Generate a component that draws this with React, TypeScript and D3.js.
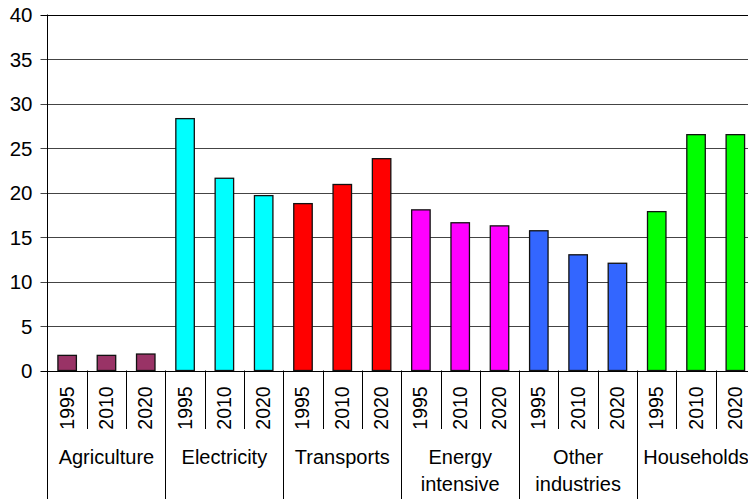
import * as d3 from "d3";

const sectors: string[][] = [
  ["Agriculture"],
  ["Electricity"],
  ["Transports"],
  ["Energy", "intensive"],
  ["Other", "industries"],
  ["Households"],
];
const years: string[] = ["1995", "2010", "2020"];
const colors: string[] = ["#993366", "#00FFFF", "#FF0000", "#FF00FF", "#3366FF", "#00FF00"];
const values: number[][] = [
  [1.7, 1.7, 1.85],
  [28.3, 21.6, 19.65],
  [18.75, 20.9, 23.8],
  [18.05, 16.6, 16.25],
  [15.7, 13.0, 12.05],
  [17.85, 26.5, 26.5],
];
const yTicks: number[] = [0, 5, 10, 15, 20, 25, 30, 35, 40];

const width = 748;
const height = 499;
const marginLeft = 47.5;
const plotRight = 755;
const marginTop = 14.5;
const axisY = 370.5;

export default function App() {
  const slots = sectors.flatMap((_, gi) => years.map((_, yi) => `${gi}-${yi}`));
  const x = d3.scaleBand<string>().domain(slots).range([marginLeft, plotRight]).padding(0);
  const y = d3.scaleLinear().domain([0, 40]).range([axisY, marginTop]);
  const bw = x.bandwidth() * 0.47;
  const font = "'Liberation Sans', Arial, sans-serif";

  return (
    <svg
      width={width}
      height={height}
      style={{ position: "absolute", left: 0, top: 0, background: "#fff" }}
      fontFamily={font}
    >
      {/* gridlines */}
      {yTicks.map((t) => (
        <g key={t}>
          <line x1={marginLeft - 7} x2={width} y1={Math.round(y(t)) + 0.5} y2={Math.round(y(t)) + 0.5} stroke={t === 40 || t === 0 ? "#000" : "#444"} strokeWidth={1} />
          <text x={32.5} y={y(t)} textAnchor="end" dominantBaseline="central" fontSize={20.5} fill="#000">
            {t}
          </text>
        </g>
      ))}
      {/* bars */}
      {values.map((row, gi) =>
        row.map((v, yi) => {
          const key = `${gi}-${yi}`;
          const cx = (x(key) as number) + x.bandwidth() / 2;
          return (
            <rect
              key={key}
              x={cx - bw / 2}
              y={y(v)}
              width={bw}
              height={y(0) - y(v)}
              fill={colors[gi]}
              stroke="#111"
              strokeWidth={1.3}
            />
          );
        })
      )}
      {/* left axis */}
      <line x1={marginLeft} x2={marginLeft} y1={marginTop} y2={height} stroke="#000" strokeWidth={1} />
      {/* category separators and labels */}
      {slots.map((key, i) => {
        const xs = x(key) as number;
        const isGroup = i % 3 === 0;
        return i === 0 ? null : (
          <line key={"s" + key} x1={Math.round(xs) + 0.5} x2={Math.round(xs) + 0.5} y1={axisY} y2={isGroup ? height : 429} stroke="#000" strokeWidth={1} />
        );
      })}
      {slots.map((key) => {
        const cx = (x(key) as number) + x.bandwidth() / 2;
        const yi = Number(key.split("-")[1]);
        return (
          <text
            key={"y" + key}
            transform={`translate(${cx - 0.5},408) rotate(-90)`}
            textAnchor="middle"
            dominantBaseline="central"
            fontSize={19.5}
            fill="#000"
          >
            {years[yi]}
          </text>
        );
      })}
      {sectors.map((lines, gi) => {
        const x0 = x(`${gi}-0`) as number;
        const cx = x0 + x.bandwidth() * 1.5;
        return (
          <text key={"c" + gi} x={cx} y={457} textAnchor="middle" dominantBaseline="central" fontSize={20} fill="#000">
            {lines.map((l, li) => (
              <tspan key={li} x={cx} dy={li === 0 ? 0 : 27}>
                {l}
              </tspan>
            ))}
          </text>
        );
      })}
    </svg>
  );
}
